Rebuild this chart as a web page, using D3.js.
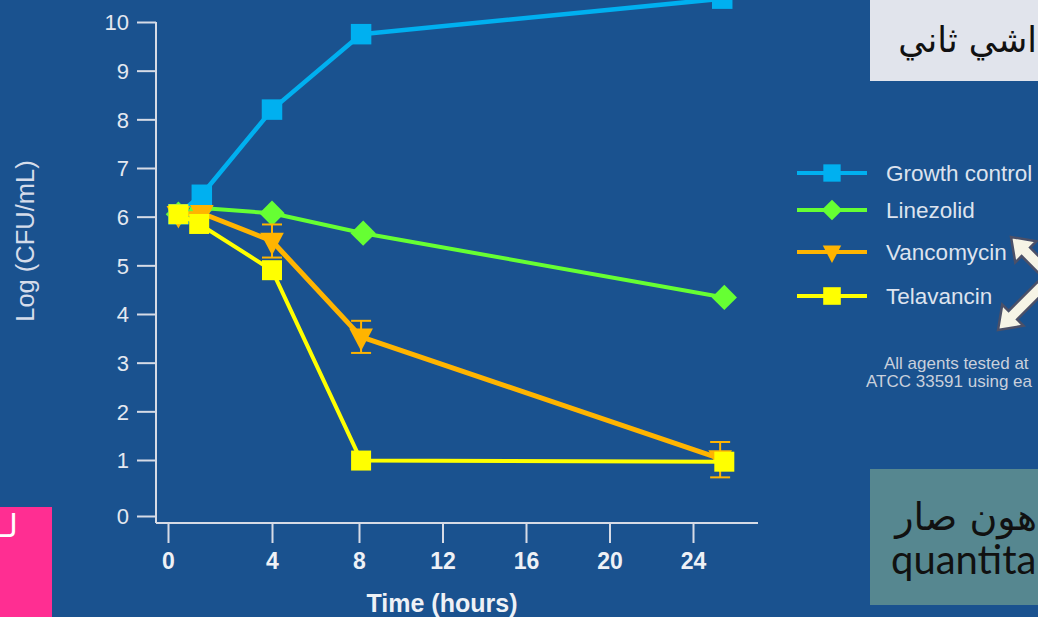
<!DOCTYPE html>
<html>
<head>
<meta charset="utf-8">
<script src="https://cdn.jsdelivr.net/npm/d3@7"></script>
<style>
  html, body { margin: 0; padding: 0; background: #1a528f; overflow: hidden; }
  svg { display: block; }
</style>
</head>
<body>
<svg id="chart" width="1038" height="617"></svg>
<script>
// Time-kill data: log CFU/mL over time for each agent
const timeTicks = [0, 4, 8, 12, 16, 20, 24];
const logTicks = [0, 1, 2, 3, 4, 5, 6, 7, 8, 9, 10];
const seriesNames = ["Growth control", "Linezolid", "Vancomycin", "Telavancin"];

const growthTime = [0.4, 1.3, 4, 8.1, 25.4];
const growthLog  = [6.05, 6.45, 8.2, 9.75, 10.48];

const linezolidTime = [0.4, 1.3, 4, 8.2, 25.5];
const linezolidLog  = [6.05, 6.18, 6.07, 5.66, 4.34];

const vancomycinTime = [0.4, 1.3, 4, 8.1, 25.3];
const vancomycinLog  = [6.05, 6.07, 5.5, 3.53, 1.03];
const vancomycinErr  = [0, 0, 0.34, 0.33, 0.34];

const telavancinTime = [0.4, 1.2, 4, 8.1, 25.5];
const telavancinLog  = [6.05, 5.85, 4.9, 0.99, 0.97];

const footnote = ["All agents tested at", "ATCC 33591 using ea"];

const svg = d3.select("#chart");
const W = 1038, H = 617;
const AXIS = "#d6dbe6";
const FONT = "'Liberation Sans', Arial, Helvetica, sans-serif";
const ARABIC = "'DejaVu Sans', 'Noto Sans', sans-serif";

svg.append("rect").attr("width", W).attr("height", H).attr("fill", "#1a528f");

// Axes with a broken origin: zero sits slightly apart from the rest of the scale
const x = d3.scaleLinear().domain([0, 4, 8, 24]).range([168, 272, 359, 693]);
const y = d3.scaleLinear().domain([0, 1, 10]).range([516, 460, 22]);

const axisLeftX = 156, axisBottomY = 523;

// Y axis
const gy = svg.append("g").attr("transform", `translate(${axisLeftX},0)`)
  .call(d3.axisLeft(y).tickValues(logTicks).tickSize(19).tickPadding(8).tickFormat(d3.format("d")));
gy.select(".domain").remove();
gy.selectAll(".tick line").attr("stroke", AXIS).attr("stroke-width", 2);
gy.selectAll(".tick text").attr("fill", "#e4e8f0").attr("font-family", FONT)
  .attr("font-size", 22).attr("dy", "0.35em");

// X axis
const gx = svg.append("g").attr("transform", `translate(0,${axisBottomY})`)
  .call(d3.axisBottom(x).tickValues(timeTicks).tickSize(20).tickPadding(10).tickFormat(d3.format("d")));
gx.select(".domain").remove();
gx.selectAll(".tick line").attr("stroke", AXIS).attr("stroke-width", 2);
gx.selectAll(".tick text").attr("fill", "#eef1f6").attr("font-family", FONT)
  .attr("font-size", 23).attr("font-weight", "bold").attr("dy", "0.71em");

// Axis lines
svg.append("line").attr("x1", axisLeftX).attr("x2", axisLeftX).attr("y1", y(10)).attr("y2", axisBottomY)
  .attr("stroke", AXIS).attr("stroke-width", 2);
svg.append("line").attr("x1", axisLeftX).attr("x2", 758).attr("y1", axisBottomY).attr("y2", axisBottomY)
  .attr("stroke", AXIS).attr("stroke-width", 2);

// Axis titles
svg.append("text").attr("x", 442).attr("y", 612).attr("text-anchor", "middle")
  .attr("fill", "#eef1f6").attr("font-family", FONT).attr("font-size", 25).attr("font-weight", "bold")
  .text("Time (hours)");
svg.append("text").attr("transform", "translate(34,241) rotate(-90)").attr("text-anchor", "middle")
  .attr("fill", "#d5dcea").attr("font-family", FONT).attr("font-size", 25.5)
  .text("Log (CFU/mL)");

// Marker shapes
const triangleDown = {
  draw(ctx, size) {
    const w = Math.sqrt(size);
    ctx.moveTo(-w / 2, -w * 0.35);
    ctx.lineTo(w / 2, -w * 0.35);
    ctx.lineTo(0, w * 0.6);
    ctx.closePath();
  }
};
const diamond = {
  draw(ctx, size) {
    const r = Math.sqrt(size * 2) / 2;
    ctx.moveTo(0, -r); ctx.lineTo(r, 0); ctx.lineTo(0, r); ctx.lineTo(-r, 0); ctx.closePath();
  }
};

const series = [
  { name: seriesNames[1], t: linezolidTime, v: linezolidLog, color: "#66ff33", shape: diamond, size: 320, lw: 4 },
  { name: seriesNames[0], t: growthTime, v: growthLog, color: "#00b0f0", shape: d3.symbolSquare, size: 420, lw: 4.5 },
  { name: seriesNames[2], t: vancomycinTime, v: vancomycinLog, err: vancomycinErr, color: "#ffb400", shape: triangleDown, size: 560, lw: 5 },
  { name: seriesNames[3], t: telavancinTime, v: telavancinLog, color: "#ffff00", shape: d3.symbolSquare, size: 400, lw: 4 }
];

const line = d3.line().x(d => x(d[0])).y(d => y(d[1]));

series.forEach(s => {
  const pts = s.t.map((t, i) => [t, s.v[i], s.err ? s.err[i] : 0]);
  const g = svg.append("g");
  g.append("path").attr("d", line(pts)).attr("fill", "none")
    .attr("stroke", s.color).attr("stroke-width", s.lw).attr("stroke-linejoin", "round");
  // error bars
  pts.filter(p => p[2] > 0).forEach(p => {
    const cx = x(p[0]), y1 = y(p[1] + p[2]), y2 = y(p[1] - p[2]);
    g.append("line").attr("x1", cx).attr("x2", cx).attr("y1", y1).attr("y2", y2)
      .attr("stroke", s.color).attr("stroke-width", 2);
    [y1, y2].forEach(yy => g.append("line").attr("x1", cx - 10).attr("x2", cx + 10)
      .attr("y1", yy).attr("y2", yy).attr("stroke", s.color).attr("stroke-width", 2));
  });
  g.selectAll(".m").data(pts).join("path")
    .attr("transform", d => `translate(${x(d[0])},${y(d[1])})`)
    .attr("d", d3.symbol().type(s.shape).size(s.size)())
    .attr("fill", s.color);
});

// Legend
const legendRows = [
  { name: seriesNames[0], color: "#00b0f0", shape: d3.symbolSquare, size: 300, y: 173 },
  { name: seriesNames[1], color: "#66ff33", shape: diamond, size: 215, y: 210 },
  { name: seriesNames[2], color: "#ffb400", shape: triangleDown, size: 340, y: 252 },
  { name: seriesNames[3], color: "#ffff00", shape: d3.symbolSquare, size: 310, y: 296 }
];
const lg = svg.append("g");
legendRows.forEach(r => {
  lg.append("line").attr("x1", 797).attr("x2", 867).attr("y1", r.y).attr("y2", r.y)
    .attr("stroke", r.color).attr("stroke-width", 4);
  lg.append("path").attr("transform", `translate(832,${r.y})`)
    .attr("d", d3.symbol().type(r.shape).size(r.size)()).attr("fill", r.color);
  lg.append("text").attr("x", 886).attr("y", r.y + 8).attr("fill", "#dde3ee")
    .attr("font-family", FONT).attr("font-size", 22.5).text(r.name);
});

// Footnote
svg.append("text").attr("x", 884).attr("y", 369).attr("fill", "#c9d0dc")
  .attr("font-family", FONT).attr("font-size", 17).text(footnote[0]);
svg.append("text").attr("x", 866).attr("y", 387).attr("fill", "#c9d0dc")
  .attr("font-family", FONT).attr("font-size", 17).text(footnote[1]);

// Four-way arrow near the legend
function doubleArrow(x1, y1, x2, y2) {
  const dx = x2 - x1, dy = y2 - y1, L = Math.hypot(dx, dy);
  const ux = dx / L, uy = dy / L, nx = -uy, ny = ux;
  const sw = 6, hw = 15, hl = 21;
  const P = (a, b) => [x1 + ux * a + nx * b, y1 + uy * a + ny * b];
  const pts = [P(0, 0), P(hl, hw), P(hl, sw), P(L - hl, sw), P(L - hl, hw), P(L, 0),
               P(L - hl, -hw), P(L - hl, -sw), P(hl, -sw), P(hl, -hw)];
  return d3.line()(pts) + "Z";
}
const ag = svg.append("g");
ag.append("path").attr("d", doubleArrow(1011, 237, 1089, 315))
  .attr("fill", "#f6f4e6").attr("stroke", "#4b5068").attr("stroke-width", 2.5).attr("stroke-linejoin", "miter");
ag.append("path").attr("d", doubleArrow(998, 330, 1102, 226))
  .attr("fill", "#f6f4e6").attr("stroke", "#4b5068").attr("stroke-width", 2.5).attr("stroke-linejoin", "miter");

// Note boxes
svg.append("rect").attr("x", 870).attr("y", 0).attr("width", 170).attr("height", 81).attr("fill", "#e1e4ec");
svg.append("text").attr("x", 1037).attr("y", 52).attr("text-anchor", "end").attr("fill", "#111")
  .attr("font-family", ARABIC).attr("font-size", 35)
  .text("اشي ثاني");

svg.append("rect").attr("x", 870).attr("y", 469).attr("width", 170).attr("height", 136).attr("fill", "#568790");
svg.append("text").attr("x", 1037).attr("y", 530).attr("text-anchor", "end").attr("fill", "#111")
  .attr("font-family", ARABIC).attr("font-size", 38)
  .text("هون صار");
svg.append("text").attr("x", 891).attr("y", 574).attr("fill", "#111")
  .attr("font-family", "Lato, 'Noto Sans', sans-serif").attr("font-size", 40)
  .text("quantita");

svg.append("rect").attr("x", 0).attr("y", 507).attr("width", 52).attr("height", 112).attr("fill", "#ff2e92");
svg.append("text").attr("x", 18).attr("y", 537).attr("text-anchor", "end").attr("fill", "#ffffff")
  .attr("font-family", ARABIC).attr("font-size", 32)
  .text("لـ");
</script>
</body>
</html>
